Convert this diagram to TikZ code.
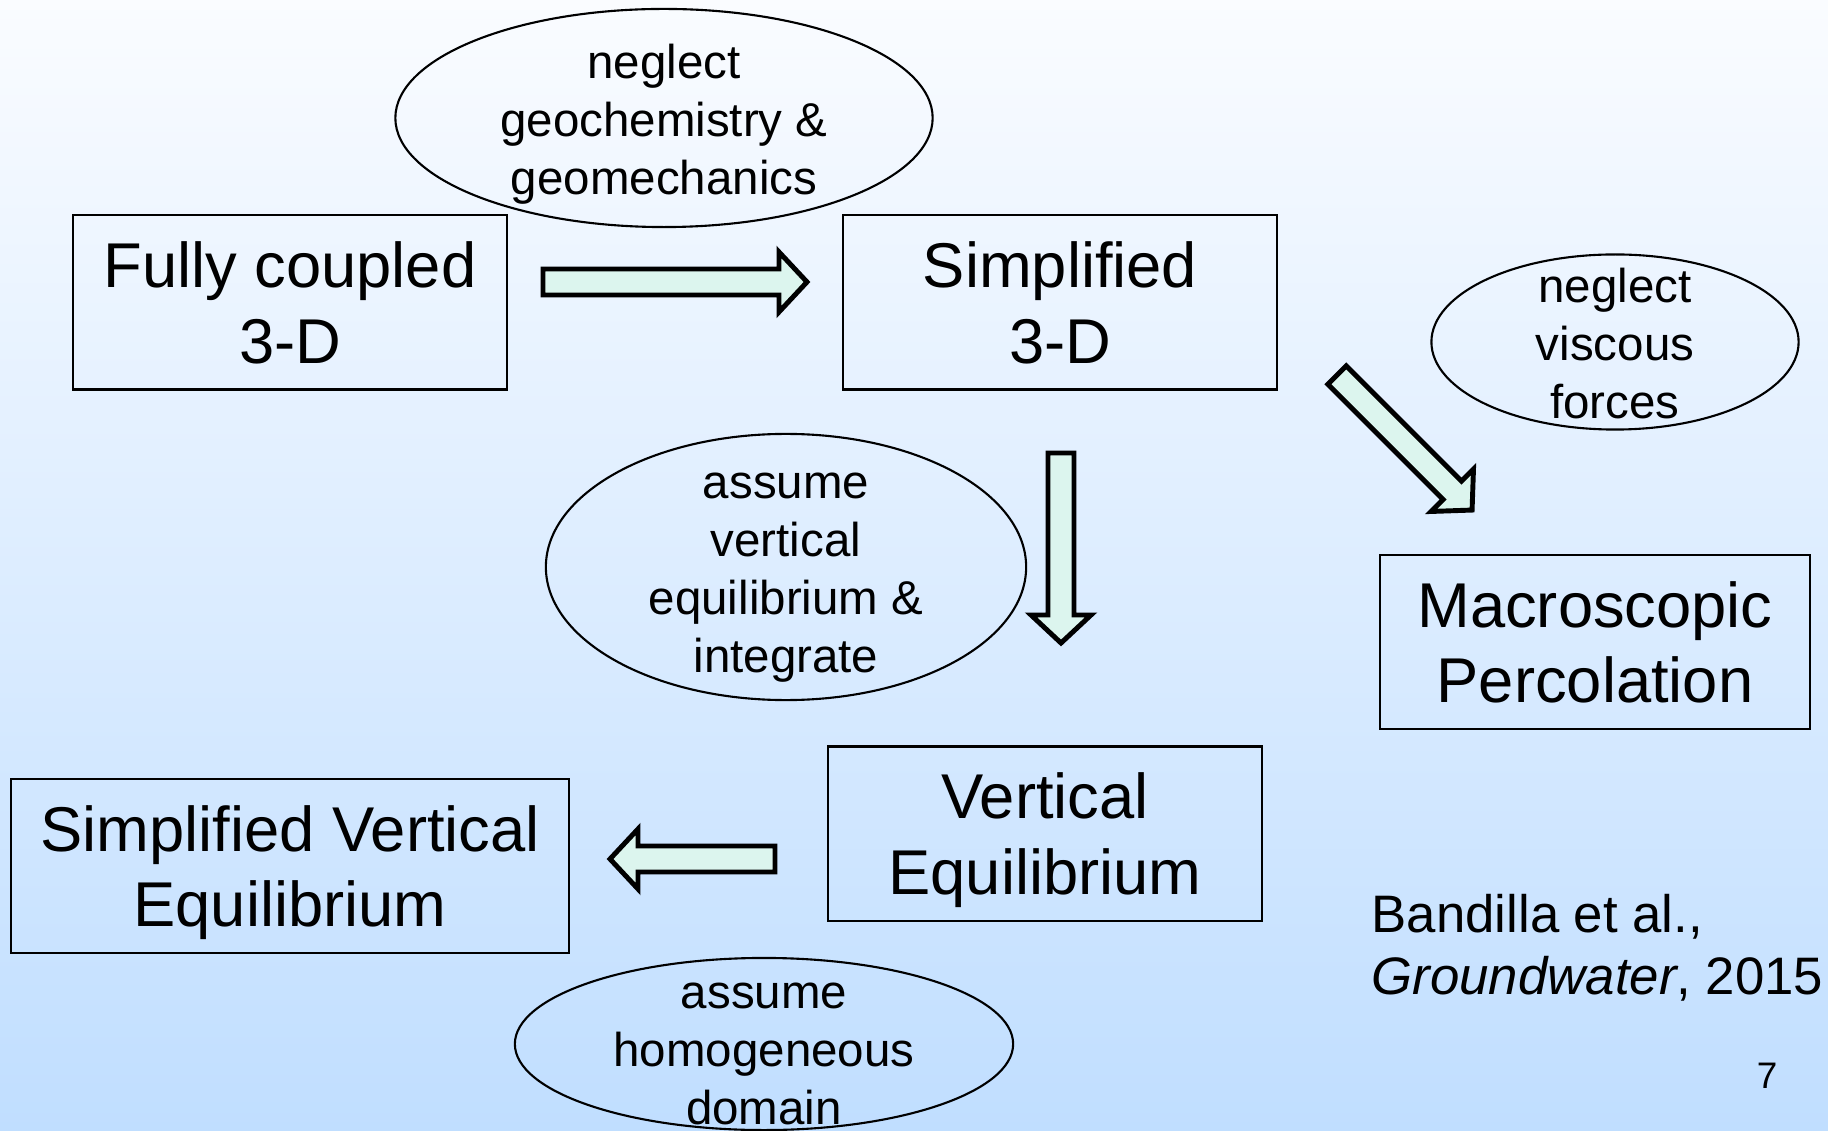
\documentclass[tikz,border=0pt]{standalone}
\usepackage{fontspec}
\setmainfont{Liberation Sans}
\usetikzlibrary{shapes.geometric}
\definecolor{bgtop}{HTML}{FAFCFF}
\definecolor{bgbot}{HTML}{C0DEFF}
\definecolor{arrfill}{HTML}{DCF5EE}
\tikzset{
  box/.style={draw,line width=0.6pt,minimum width=4.33cm,minimum height=1.74cm,
    align=center,inner sep=0pt,text depth=0pt,font=\fontsize{18}{21.5}\selectfont},
  bubble/.style={draw,ellipse,line width=0.6pt,inner sep=0pt},
  bubtxt/.style={align=center,inner sep=0pt,font=\fontsize{13.5}{16.5}\selectfont},
  arr/.style={draw,fill=arrfill,line width=1.4pt,miter limit=4}
}
% block arrow: tail point, angle, length
\newcommand{\blkarrow}[3]{%
\draw[arr,shift={#1},rotate=#2](0,-13)--(#3-28,-13)--(#3-28,-30)--(#3,0)
  --(#3-28,30)--(#3-28,13)--(0,13)--cycle;}

\begin{document}
\begin{tikzpicture}[x=0.01cm,y=-0.01cm]
\useasboundingbox(0,0)rectangle(1828,1131);
\fill[top color=bgtop,bottom color=bgbot](0,0)rectangle(1828,1131);
% boxes
\node[box](full3d)at(290,302.5){Fully coupled\\3-D};
\node[box](simp3d)at(1060,302.5){Simplified\\3-D};
\node[box,minimum width=4.30cm](macro)at(1595,642){Macroscopic\\Percolation};
\node[box](verteq)at(1045,833.5){Vertical\\Equilibrium};
\node[box,minimum width=5.57cm](simpve)at(290,866){Simplified Vertical\\Equilibrium};
% assumptions
\node[bubble,minimum width=5.37cm,minimum height=2.18cm](neglgeo)at(664,118){};
\node[bubtxt](neglgeotxt)at(664,124){neglect\\geochemistry \&\\geomechanics};
\node[bubble,minimum width=3.67cm,minimum height=1.75cm](neglvisc)at(1615,342){};
\node[bubtxt](neglvisctxt)at(1615,344){neglect\\viscous\\forces};
\node[bubble,minimum width=4.80cm,minimum height=2.66cm](assvert)at(786,567){};
\node[bubtxt](assverttxt)at(786,578){assume\\vertical\\equilibrium \&\\integrate};
\node[bubble,minimum width=4.98cm,minimum height=1.72cm](asshom)at(764,1044){};
\node[bubtxt](asshomtxt)at(764,1054){assume\\homogeneous\\domain};
% arrows
\blkarrow{(543,282)}{0}{264}
\blkarrow{(1061,453)}{-90}{190}
\blkarrow{(775,859)}{180}{165}
\blkarrow{(1337,375)}{-45}{191}
% reference
\node[align=left,anchor=west,inner sep=0pt,font=\fontsize{15}{17.6}\selectfont](ref)
  at(1371,948){Bandilla et al.,\\\textit{Groundwater}, 2015};
\node[font=\fontsize{10.5}{12}\selectfont](pgno)at(1767,1076){7};
\end{tikzpicture}
\end{document}
